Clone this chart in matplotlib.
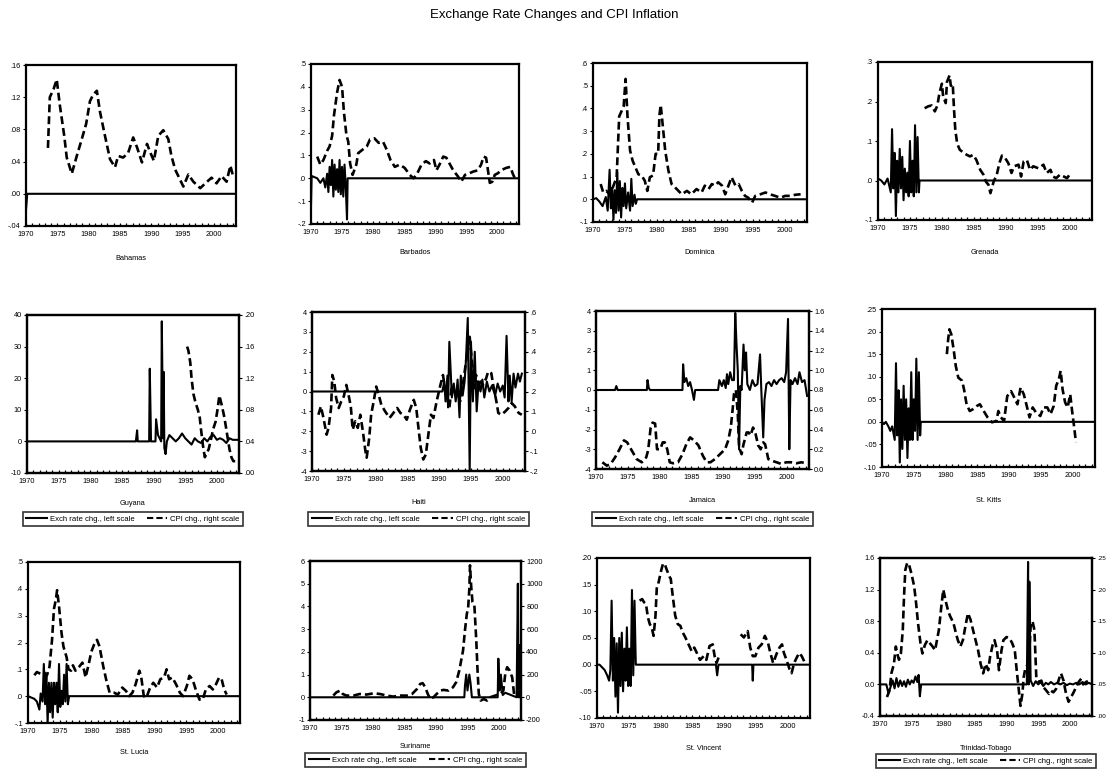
import matplotlib.pyplot as plt
from matplotlib.ticker import FixedLocator, MultipleLocator

plt.rcParams['font.family'] = ['Liberation Sans', 'DejaVu Sans']

# ---------------- data ----------------
bahamas_cpi_yr = [1973.5, 1973.8, 1974.4, 1974.9, 1975.4, 1976.1, 1976.5, 1977.3, 1978.1, 1978.9, 1979.6,
                  1980.2, 1980.7, 1981.3, 1981.8, 1982.6, 1983.4, 1984.2, 1984.7, 1985.5, 1986.3, 1987.1,
                  1987.7, 1988.5, 1989.3, 1989.9, 1990.4, 1991.1, 1991.9, 1992.7, 1993.2, 1993.8, 1994.3,
                  1995.1, 1995.9, 1996.7, 1997.8, 1998.6, 1999.6, 2000.4, 2001.2, 2002.0, 2002.6, 2003.1]
bahamas_cpi = [.057, .12, .13, .142, .11, .072, .045, .025, .047, .068, .087,
               .115, .123, .128, .102, .072, .043, .033, .047, .045, .051, .07,
               .058, .039, .062, .05, .041, .072, .079, .068, .047, .03, .022,
               .009, .024, .015, .007, .013, .02, .013, .022, .015, .035, .02]
bahamas_fx_yr = [1970.0, 1970.2, 2003.5]
bahamas_fx = [-.02, 0.0, 0.0]

barbados_cpi_yr = [1971.0, 1971.5, 1972.0, 1972.6, 1973.0, 1973.4, 1973.7, 1974.2, 1974.6, 1975.0, 1975.3,
                   1975.7, 1976.0, 1976.3, 1976.7, 1977.3, 1977.6, 1978.3, 1979.0, 1979.5, 1980.2, 1980.9,
                   1981.6, 1982.2, 1982.8, 1983.5, 1984.3, 1985.1, 1985.9, 1986.5, 1987.0, 1987.8, 1988.5,
                   1989.1, 1989.8, 1990.2, 1990.7, 1991.3, 1991.8, 1992.4, 1992.9, 1993.7, 1994.2, 1994.8,
                   1995.5, 1996.2, 1996.9, 1997.4, 1997.8, 1998.2, 1998.5, 1998.8, 1999.2, 1999.6, 2000.1,
                   2000.6, 2001.4, 2002.1, 2002.5, 2003.0]
barbados_cpi = [.095, .06, .08, .12, .14, .185, .275, .375, .43, .40, .29,
                .19, .16, .065, .015, .06, .11, .125, .14, .17, .175, .155,
                .16, .125, .08, .05, .06, .045, .015, .0, .015, .06, .075,
                .065, .08, .035, .06, .095, .09, .06, .035, .007, -.015, .015,
                .022, .03, .035, .06, .095, .09, .035, -.02, -.015, .015, .022,
                .035, .045, .05, .02, -.01]
barbados_fx_yr = [1970.0, 1970.1, 1971.0, 1971.5, 1972.0, 1972.3, 1972.6, 1972.8, 1973.0, 1973.2, 1973.4,
                  1973.6, 1973.8, 1974.0, 1974.2, 1974.4, 1974.6, 1974.8, 1975.0, 1975.2, 1975.4, 1975.6,
                  1975.8, 1975.9, 2003.5]
barbados_fx = [-.12, .01, 0.0, -.02, 0.0, -.04, .02, -.06, .05, -.03, .08,
               -.08, .06, -.05, .04, -.06, .08, -.07, .05, -.08, .06, -.04,
               -.18, 0.0, 0.0]

dominica_cpi_yr = [1971.2, 1971.6, 1972.1, 1972.6, 1973.1, 1973.7, 1974.1, 1974.5, 1974.8, 1975.1, 1975.4,
                   1975.8, 1976.2, 1976.5, 1977.1, 1977.6, 1978.1, 1978.5, 1978.9, 1979.4, 1979.8, 1980.2,
                   1980.4, 1980.6, 1980.9, 1981.3, 1981.8, 1982.3, 1983.1, 1983.9, 1984.7, 1985.4, 1986.2,
                   1987.0, 1987.5, 1988.1, 1988.6, 1989.1, 1989.6, 1990.2, 1990.7, 1991.2, 1991.7, 1992.3,
                   1992.8, 1993.3, 1993.8, 1994.3, 1994.9, 1995.4, 1996.2, 1997.0, 1997.7, 1998.5, 1999.3,
                   2000.1, 2000.9, 2001.7, 2002.5]
dominica_cpi = [.067, .03, .037, .022, .052, .097, .365, .39, .41, .53, .365,
                .215, .17, .15, .11, .105, .082, .037, .097, .105, .2, .2,
                .37, .415, .33, .215, .127, .067, .045, .022, .037, .022, .045,
                .03, .06, .045, .067, .06, .075, .06, .022, .06, .097, .06,
                .067, .037, .015, .007, -.015, .015, .022, .03, .022, .015, .007,
                .015, .015, .02, .022]
dominica_fx_yr = [1970.0, 1970.5, 1971.0, 1971.5, 1972.0, 1972.3, 1972.6, 1972.8, 1973.0, 1973.2, 1973.4,
                  1973.6, 1973.8, 1974.0, 1974.2, 1974.4, 1974.6, 1974.8, 1975.0, 1975.2, 1975.5, 1975.8,
                  1976.0, 1976.2, 1976.5, 1976.7, 1976.9, 2003.5]
dominica_fx = [0.0, .005, -.01, -.03, .01, -.05, .13, -.04, .05, -.09, .04,
               -.06, .12, -.05, .08, -.08, .05, -.03, .07, -.04, .03, -.05,
               .09, -.03, .02, -.02, 0.0, 0.0]

grenada_cpi_yr = [1977.3, 1977.9, 1978.4, 1978.9, 1979.3, 1979.6, 1980.0, 1980.2, 1980.6, 1980.8, 1981.2,
                  1981.4, 1981.7, 1981.9, 1982.1, 1982.4, 1982.8, 1983.4, 1983.9, 1984.4, 1984.9, 1985.4,
                  1986.0, 1986.5, 1986.9, 1987.3, 1987.6, 1988.1, 1988.6, 1989.0, 1989.4, 1989.9, 1990.4,
                  1990.9, 1991.3, 1992.0, 1992.4, 1992.8, 1993.3, 1993.8, 1994.3, 1995.1, 1995.9, 1996.4,
                  1997.0, 1997.4, 1997.9, 1998.5, 1999.1, 1999.6, 2000.0]
grenada_cpi = [.183, .188, .19, .175, .19, .22, .245, .212, .196, .25, .266,
               .24, .245, .18, .128, .093, .078, .07, .065, .061, .065, .052,
               .027, .015, -.003, -.011, -.032, -.003, .015, .044, .063, .057, .044,
               .019, .036, .04, .01, .048, .052, .027, .036, .031, .04, .019,
               .027, .01, .006, .015, .01, .006, .015]
grenada_fx_yr = [1970.0, 1970.5, 1971.0, 1971.5, 1972.0, 1972.2, 1972.4, 1972.6, 1972.8, 1973.0, 1973.2,
                 1973.4, 1973.6, 1973.8, 1974.0, 1974.2, 1974.4, 1974.6, 1974.8, 1975.0, 1975.2, 1975.4,
                 1975.6, 1975.8, 1976.0, 1976.2, 1976.4, 1976.5, 2003.5]
grenada_fx = [.005, 0.0, -.01, .005, -.03, .13, -.02, .07, -.09, .05, -.03,
              .08, -.02, .06, -.05, .03, -.03, .02, -.04, .10, -.03, .05,
              -.04, .14, -.03, .11, -.03, 0.0, 0.0]

guyana_cpi_yr = [1995.3, 1995.5, 1995.8, 1996.0, 1996.3, 1996.6, 1997.0, 1997.3, 1997.5, 1997.8, 1998.1,
                 1998.4, 1998.7, 1999.0, 1999.4, 1999.8, 2000.1, 2000.4, 2000.8, 2001.2, 2001.6, 2002.0,
                 2002.3, 2002.6, 2002.9]
guyana_cpi = [.16, .155, .14, .12, .10, .09, .08, .07, .055, .035, .02,
              .025, .03, .04, .055, .065, .08, .098, .085, .07, .05, .03,
              .02, .015, .015]
guyana_fx_yr = [1970.0, 1987.2, 1987.4, 1987.5, 1989.3, 1989.4, 1989.6, 1990.3, 1990.4, 1990.7, 1991.2,
                1991.3, 1991.5, 1991.6, 1991.7, 1991.9, 1992.1, 1992.5, 1993.0, 1993.5, 1994.0, 1994.5,
                1995.0, 1995.5, 1996.0, 1996.5, 1997.0, 1997.5, 1998.0, 1998.5, 1999.0, 1999.5, 2000.0,
                2000.5, 2001.0, 2001.5, 2002.0, 2002.5, 2003.0, 2003.5]
guyana_fx = [0.0, 0.0, 3.5, 0.0, 0.0, 23.0, 0.0, 0.0, 7.0, 2.0, 0.0,
             38.0, 1.0, 22.0, -2.0, -4.0, 0.0, 2.0, 1.0, 0.0, 1.0, 2.5,
             1.0, 0.0, -1.0, 1.0, 0.0, -0.5, 1.0, 0.0, 1.5, 2.0, 0.5,
             1.0, 0.5, -0.5, 1.0, 0.5, 0.5, 0.5]

haiti_cpi_yr = [1971.0, 1971.4, 1971.8, 1972.3, 1972.6, 1973.0, 1973.2, 1973.5, 1973.8, 1974.2, 1974.6,
                1975.0, 1975.4, 1975.8, 1976.1, 1976.4, 1976.8, 1977.2, 1977.6, 1978.0, 1978.4, 1978.6,
                1979.0, 1979.3, 1979.7, 1980.1, 1980.5, 1980.9, 1981.5, 1982.2, 1982.8, 1983.4, 1983.9,
                1984.4, 1984.9, 1985.4, 1986.0, 1986.4, 1986.8, 1987.1, 1987.5, 1987.9, 1988.3, 1988.7,
                1989.1, 1989.6, 1990.2, 1990.6, 1990.9, 1991.2, 1991.6, 1992.0, 1992.4, 1992.8, 1993.3,
                1993.8, 1994.3, 1994.8, 1995.1, 1995.5, 1995.8, 1996.2, 1996.5, 1996.9, 1997.4, 1997.7,
                1998.2, 1998.5, 1999.0, 1999.3, 1999.8, 2000.4, 2000.9, 2001.4, 2001.9, 2002.5, 2003.0]
haiti_cpi = [.083, .125, .067, -.017, .017, .117, .283, .25, .167, .117, .15,
             .175, .233, .175, .125, .008, .05, .017, .083, 0.0, -.1, -.133,
             -.033, .083, .15, .225, .183, .133, .1, .067, .092, .117, .092,
             .083, .058, .108, .158, .117, 0.0, -.083, -.142, -.117, -.017, .083,
             .067, .15, .233, .283, .217, .175, .117, .233, .2, .2, .15,
             .25, .367, .475, .367, .217, .283, .217, .25, .233, .267, .3,
             .292, .233, .15, .092, .083, .1, .117, .142, .125, .092, .083]
haiti_fx_yr = [1970.0, 1990.5, 1990.8, 1991.0, 1991.3, 1991.4, 1991.6, 1992.0, 1992.3, 1992.6, 1992.9,
               1993.2, 1993.4, 1993.7, 1994.0, 1994.2, 1994.5, 1994.8, 1995.0, 1995.3, 1995.6, 1995.9,
               1996.2, 1996.5, 1996.8, 1997.1, 1997.5, 1997.9, 1998.3, 1998.8, 1999.2, 1999.6, 2000.0,
               2000.3, 2000.6, 2000.9, 2001.1, 2001.4, 2001.7, 2002.0, 2002.4, 2002.7, 2003.0]
haiti_fx = [0.0, 0.0, 0.5, -0.5, 0.8, -0.8, 2.5, -0.3, 0.4, -0.5, 0.6,
            -1.3, 0.8, -0.2, 0.5, 1.5, 3.7, -4.0, 2.5, -0.5, 2.0, -1.0,
            0.5, 0.0, 0.6, -0.3, 0.5, 0.0, 0.3, -0.2, 0.4, 0.0, 0.3,
            -0.3, 2.8, -0.5, 0.8, -0.5, 0.9, 0.2, 0.9, 0.5, 0.9]

jamaica_cpi_yr = [1971.0, 1971.7, 1972.3, 1973.0, 1973.7, 1974.4, 1974.9, 1975.6, 1976.4, 1977.2, 1977.9,
                  1978.2, 1978.6, 1978.9, 1979.3, 1979.6, 1980.1, 1980.5, 1980.8, 1981.2, 1981.6, 1982.1,
                  1982.9, 1983.6, 1984.2, 1984.8, 1985.4, 1986.1, 1986.8, 1987.4, 1988.0, 1988.7, 1989.5,
                  1990.3, 1990.8, 1991.2, 1991.5, 1991.7, 1992.0, 1992.3, 1992.5, 1992.9, 1993.2, 1993.7,
                  1994.0, 1994.3, 1994.7, 1995.1, 1995.5, 1995.9, 1996.3, 1996.6, 1997.1, 1997.6, 1998.4,
                  1999.2, 1999.9, 2000.7, 2001.5, 2002.3, 2003.1]
jamaica_cpi = [.068, .034, .05, .118, .2, .29, .27, .19, .1, .068, .118,
               .19, .42, .47, .46, .2, .2, .27, .27, .2, .068, .058,
               .068, .15, .25, .32, .29, .24, .135, .068, .068, .1, .15,
               .2, .29, .42, .61, .76, .8, .56, .22, .15, .25, .37,
               .37, .34, .42, .355, .24, .2, .27, .25, .1, .085, .068,
               .05, .068, .068, .058, .068, .058]
jamaica_fx_yr = [1970.0, 1973.0, 1973.2, 1973.4, 1978.0, 1978.1, 1978.3, 1978.5, 1983.6, 1983.7, 1983.9,
                 1984.2, 1984.5, 1984.8, 1985.1, 1985.4, 1985.6, 1989.2, 1989.4, 1989.8, 1990.1, 1990.4,
                 1990.6, 1990.8, 1991.1, 1991.4, 1991.7, 1991.9, 1992.1, 1992.3, 1992.5, 1992.7, 1992.9,
                 1993.2, 1993.4, 1993.6, 1993.8, 1994.2, 1994.6, 1995.0, 1995.4, 1995.8, 1996.0, 1996.3,
                 1996.5, 1996.8, 1997.2, 1997.6, 1998.0, 1998.4, 1998.8, 1999.2, 1999.6, 1999.9, 2000.2,
                 2000.4, 2000.6, 2000.9, 2001.3, 2001.7, 2002.0, 2002.4, 2002.8, 2003.2]
jamaica_fx = [0.0, 0.0, 0.2, 0.0, 0.0, 0.5, 0.1, 0.0, 0.0, 1.3, 0.4,
              0.6, 0.2, 0.4, 0.0, -0.5, 0.0, 0.0, 0.5, 0.2, 0.5, 0.1,
              0.8, 0.3, 0.9, 0.5, 0.5, 3.9, 2.3, 1.0, -3.0, 0.2, 0.0,
              2.3, 1.0, 1.9, 0.3, 0.0, 0.5, 0.2, 0.3, 1.8, 0.0, -2.4,
              -0.5, 0.3, 0.4, 0.2, 0.5, 0.3, 0.5, 0.6, 0.4, 0.9, 3.6,
              -3.0, 0.5, 0.3, 0.6, 0.3, 0.9, 0.4, 0.5, -0.3]

stkitts_cpi_yr = [1980.2, 1980.4, 1980.6, 1980.9, 1981.3, 1981.6, 1982.0, 1982.6, 1982.9, 1983.3, 1983.8,
                  1984.3, 1984.9, 1985.4, 1986.0, 1986.6, 1987.3, 1988.0, 1988.3, 1988.7, 1989.2, 1989.7,
                  1990.3, 1990.8, 1991.3, 1991.8, 1992.3, 1992.7, 1993.2, 1993.7, 1994.2, 1994.9, 1995.4,
                  1996.0, 1996.5, 1997.0, 1997.4, 1997.8, 1998.1, 1998.4, 1998.8, 1999.2, 1999.6, 1999.9,
                  2000.2, 2000.5]
stkitts_cpi = [.15, .182, .205, .194, .157, .124, .098, .091, .072, .039, .024,
               .028, .035, .039, .024, .01, -.001, .002, .024, .01, .002, .057,
               .068, .054, .039, .076, .061, .039, .01, .032, .021, .013, .032,
               .032, .017, .035, .08, .094, .113, .072, .043, .032, .061, .024,
               -.009, -.045]
stkitts_fx_yr = [1970.0, 1970.3, 1970.6, 1971.0, 1971.3, 1971.6, 1972.0, 1972.2, 1972.4, 1972.6, 1972.8,
                 1973.0, 1973.2, 1973.4, 1973.6, 1973.8, 1974.0, 1974.2, 1974.4, 1974.6, 1974.8, 1975.0,
                 1975.2, 1975.4, 1975.6, 1975.8, 1976.0, 1976.1, 2003.5]
stkitts_fx = [0.0, -.005, 0.0, -.01, -.02, -.01, -.04, .13, -.03, .07, -.09,
              .05, -.06, .08, -.04, .05, -.08, .03, -.04, .11, -.04, .05,
              -.02, .14, -.04, .11, -.03, 0.0, 0.0]

stlucia_cpi_yr = [1971.0, 1971.4, 1972.0, 1972.5, 1973.0, 1973.4, 1973.8, 1974.1, 1974.4, 1974.6, 1974.9,
                  1975.3, 1975.6, 1976.1, 1976.4, 1976.8, 1977.1, 1977.5, 1978.1, 1978.6, 1979.1, 1979.6,
                  1980.0, 1980.4, 1980.9, 1981.3, 1981.9, 1982.4, 1982.9, 1983.6, 1984.2, 1984.9, 1985.5,
                  1986.0, 1986.5, 1987.0, 1987.6, 1987.9, 1988.3, 1988.7, 1989.3, 1989.8, 1990.4, 1990.9,
                  1991.5, 1991.9, 1992.3, 1992.8, 1993.4, 1994.0, 1994.5, 1995.1, 1995.5, 1996.0, 1996.5,
                  1997.1, 1997.6, 1998.1, 1998.7, 1999.2, 1999.7, 2000.2, 2000.6, 2001.0, 2001.4]
stlucia_cpi = [.078, .09, .083, .09, .078, .11, .21, .325, .36, .395, .335,
               .235, .185, .145, .10, .095, .115, .095, .11, .125, .07, .12,
               .165, .19, .21, .185, .11, .057, .013, .013, .006, .032, .019,
               .0, .013, .044, .095, .07, .0, -.006, .032, .05, .032, .063,
               .07, .10, .063, .07, .044, .013, .0, .038, .076, .063, .025,
               -.013, -.013, .025, .038, .025, .044, .07, .063, .025, .006]
stlucia_fx_yr = [1970.0, 1970.5, 1971.0, 1971.4, 1971.8, 1972.0, 1972.3, 1972.5, 1972.7, 1972.9, 1973.1,
                 1973.3, 1973.5, 1973.7, 1973.9, 1974.1, 1974.3, 1974.5, 1974.7, 1974.9, 1975.1, 1975.3,
                 1975.5, 1975.7, 1975.9, 1976.1, 1976.3, 1976.5, 2003.5]
stlucia_fx = [0.0, -.005, -.01, -.02, -.05, .01, -.02, .12, -.03, .08, -.10,
              .05, -.06, .05, -.08, .05, -.03, .05, -.06, .12, -.04, .02,
              -.03, .08, -.02, .12, -.03, 0.0, 0.0]

suriname_cpi_yr = [1973.7, 1974.2, 1974.8, 1975.2, 1975.8, 1976.9, 1977.9, 1979.0, 1980.1, 1981.1, 1982.2,
                   1983.2, 1984.3, 1985.4, 1986.2, 1987.0, 1987.5, 1987.9, 1988.3, 1988.7, 1989.1, 1989.6,
                   1990.1, 1990.7, 1991.2, 1992.0, 1992.7, 1993.2, 1993.7, 1994.3, 1994.6, 1994.9, 1995.1,
                   1995.3, 1995.4, 1995.6, 1995.8, 1996.1, 1996.4, 1996.6, 1996.8, 1997.1, 1997.6, 1998.1,
                   1998.6, 1999.4, 2000.2, 2000.7, 2001.0, 2001.3, 2001.7, 2002.1, 2002.4]
suriname_cpi = [15, 44, 59, 29, 15, 15, 29, 24, 35, 29, 15,
                6, 15, 15, 29, 74, 118, 124, 88, 29, -15, 0,
                29, 59, 65, 59, 88, 132, 235, 412, 588, 735, 780,
                956, 1162, 970, 838, 809, 500, 235, 29, -29, -15, -29,
                0, 15, 29, 59, 206, 265, 235, 176, 29]
suriname_fx_yr = [1970.0, 1994.5, 1994.6, 1994.8, 1995.0, 1995.3, 1995.5, 1995.7, 1999.8, 1999.9, 2000.1,
                  2000.3, 2000.6, 2001.0, 2002.8, 2003.0, 2003.1, 2003.2, 2003.3, 2003.5]
suriname_fx = [0.0, 0.0, 0.5, 1.0, 0.3, 1.0, 0.6, 0.0, 0.0, 1.7, 0.3,
               1.0, 0.1, 0.2, 0.0, 5.0, 0.0, 2.3, 0.0, 0.0]

stvincent_cpi_yr = [1976.7, 1977.1, 1977.4, 1977.7, 1978.0, 1978.3, 1978.6, 1978.9, 1979.2, 1979.4, 1979.7,
                    1980.1, 1980.4, 1980.7, 1981.0, 1981.4, 1981.6, 1981.9, 1982.3, 1982.7, 1983.1, 1983.5,
                    1983.9, 1984.4, 1984.9, 1985.3, 1985.7, 1986.2, 1986.8, 1987.2, 1987.7, 1988.2, 1988.5,
                    1988.8, 1989.2, None, 1992.6, 1993.1, 1993.7, 1994.1, 1994.5, 1994.9, 1995.4, 1995.9,
                    1996.4, 1996.9, 1997.2, 1997.7, 1998.3, 1998.7, 1999.1, 1999.4, 1999.8, 2000.3, 2000.6,
                    2001.0, 2001.4, 2001.8, 2002.2, 2002.6]
stvincent_cpi = [.12, .123, .117, .114, .089, .076, .07, .054, .092, .143, .155,
                 .177, .19, .187, .177, .165, .161, .13, .092, .076, .073, .06,
                 .051, .038, .025, .032, .022, .009, .016, .009, .035, .038, .016,
                 .003, .016, None, .057, .051, .063, .032, .016, .016, .032, .038,
                 .054, .041, .025, .003, .022, .032, .038, .022, .009, -.009, -.016,
                 .003, .013, .022, .016, .006]
stvincent_fx_yr = [1970.0, 1970.4, 1970.8, 1971.2, 1971.6, 1971.9, 1972.1, 1972.3, 1972.5, 1972.7, 1972.9,
                   1973.1, 1973.3, 1973.5, 1973.7, 1973.9, 1974.1, 1974.3, 1974.5, 1974.7, 1974.9, 1975.1,
                   1975.3, 1975.5, 1975.7, 1975.9, 1976.1, 1988.7, 1988.9, 1989.1, 1994.4, 1994.5, 1994.6,
                   2003.5]
stvincent_fx = [0.0, 0.0, -.005, -.01, -.02, -.03, -.01, .12, -.03, .05, -.06,
                .04, -.09, .05, -.04, .06, -.05, .03, -.03, .07, -.04, .03,
                -.04, .14, -.02, .12, 0.0, 0.0, -.02, 0.0, 0.0, -.03, 0.0,
                0.0]

trinidad_cpi_yr = [1971.1, 1971.5, 1971.8, 1972.2, 1972.5, 1972.8, 1973.0, 1973.3, 1973.6, 1973.8, 1974.0,
                   1974.3, 1974.6, 1975.0, 1975.4, 1975.7, 1976.0, 1976.4, 1976.7, 1977.1, 1977.5, 1977.9,
                   1978.3, 1978.7, 1979.0, 1979.3, 1979.7, 1980.0, 1980.4, 1980.8, 1981.1, 1981.6, 1982.0,
                   1982.3, 1982.7, 1983.1, 1983.6, 1983.9, 1984.3, 1984.7, 1985.1, 1985.5, 1985.9, 1986.3,
                   1986.7, 1987.1, 1987.4, 1987.8, 1988.1, 1988.5, 1988.8, 1989.2, 1989.5, 1990.0, 1990.5,
                   1990.9, 1991.3, 1991.6, 1992.0, 1992.2, 1992.5, 1992.7, 1993.0, 1993.3, 1993.5, 1993.8,
                   1994.1, 1994.4, 1994.7, 1995.1, 1995.5, 1995.8, 1996.3, 1996.7, 1997.0, 1997.4, 1997.8,
                   1998.3, 1998.6, 1999.0, 1999.4, 1999.8, 2000.2, 2000.6, 2001.0, 2001.4, 2001.8, 2002.1,
                   2002.6, 2003.0]
trinidad_cpi = [.030, .040, .0675, .0825, .11, .096, .089, .099, .136, .19, .231,
                .2425, .239, .224, .205, .179, .1475, .115, .099, .1125, .12, .115,
                .11, .104, .12, .136, .174, .20, .181, .165, .1575, .1475, .131,
                .12, .11, .12, .1475, .1625, .1525, .136, .12, .104, .0825, .0675,
                .0825, .0725, .094, .1125, .12, .104, .0725, .104, .12, .125, .1225,
                .115, .104, .0725, .035, .016, .035, .061, .0775, .08, .0825, .141,
                .15, .136, .061, .054, .056, .046, .040, .035, .040, .0375, .0425,
                .059, .0675, .056, .035, .0225, .030, .0375, .046, .054, .059, .05,
                .054, .056]
trinidad_fx_yr = [1970.0, 1971.0, 1971.3, 1971.6, 1972.0, 1972.3, 1972.6, 1972.9, 1973.2, 1973.5, 1973.8,
                  1974.1, 1974.4, 1974.7, 1975.0, 1975.3, 1975.6, 1975.9, 1976.1, 1976.3, 1976.5, 1993.2,
                  1993.4, 1993.5, 1993.6, 1993.8, 1994.2, 1994.6, 1995.0, 1995.4, 1995.8, 1996.2, 1996.6,
                  1997.0, 1997.5, 1998.0, 1998.5, 1999.0, 1999.5, 2000.0, 2000.5, 2001.0, 2001.5, 2002.0,
                  2002.5, 2003.0, 2003.5]
trinidad_fx = [0.0, 0.0, -0.1, -0.05, 0.05, -0.05, 0.08, -0.03, 0.05, -0.02, 0.04,
               -0.03, 0.06, 0.0, 0.05, 0.02, 0.1, 0.03, 0.12, -0.15, 0.0, 0.0,
               1.55, 0.0, 1.3, 0.05, -0.02, 0.04, 0.0, 0.03, -0.02, 0.02, 0.0,
               0.03, 0.0, 0.02, 0.0, 0.02, -0.01, 0.01, 0.0, 0.02, 0.0, 0.03,
               0.0, 0.02, 0.0]

# tick values and labels
bahamas_ticks = [.16, .12, .08, .04, .00, -.04]
bahamas_labels = ['.16', '.12', '.08', '.04', '.00', '-.04']
barbados_ticks = [.5, .4, .3, .2, .1, .0, -.1, -.2]
barbados_labels = ['.5', '.4', '.3', '.2', '.1', '.0', '-.1', '-.2']
dominica_ticks = [.6, .5, .4, .3, .2, .1, .0, -.1]
dominica_labels = ['.6', '.5', '.4', '.3', '.2', '.1', '.0', '-.1']
grenada_ticks = [.3, .2, .1, .0, -.1]
grenada_labels = ['.3', '.2', '.1', '.0', '-.1']
guyana_ticks = [40, 30, 20, 10, 0, -10]
guyana_labels = ['40', '30', '20', '10', '0', '-10']
guyana_rticks = [.20, .16, .12, .08, .04, .00]
guyana_rlabels = ['.20', '.16', '.12', '.08', '.04', '.00']
haiti_ticks = [4, 3, 2, 1, 0, -1, -2, -3, -4]
haiti_labels = ['4', '3', '2', '1', '0', '-1', '-2', '-3', '-4']
haiti_rticks = [.6, .5, .4, .3, .2, .1, .0, -.1, -.2]
haiti_rlabels = ['.6', '.5', '.4', '.3', '.2', '.1', '.0', '-.1', '-.2']
jamaica_ticks = [4, 3, 2, 1, 0, -1, -2, -3, -4]
jamaica_labels = ['4', '3', '2', '1', '0', '-1', '-2', '-3', '-4']
jamaica_rticks = [1.6, 1.4, 1.2, 1.0, 0.8, 0.6, 0.4, 0.2, 0.0]
jamaica_rlabels = ['1.6', '1.4', '1.2', '1.0', '0.8', '0.6', '0.4', '0.2', '0.0']
stkitts_ticks = [.25, .20, .15, .10, .05, .00, -.05, -.10]
stkitts_labels = ['.25', '.20', '.15', '.10', '.05', '.00', '-.05', '-.10']
stlucia_ticks = [.5, .4, .3, .2, .1, .0, -.1]
stlucia_labels = ['.5', '.4', '.3', '.2', '.1', '.0', '-.1']
suriname_ticks = [6, 5, 4, 3, 2, 1, 0, -1]
suriname_labels = ['6', '5', '4', '3', '2', '1', '0', '-1']
suriname_rticks = [1200, 1000, 800, 600, 400, 200, 0, -200]
suriname_rlabels = ['1200', '1000', '800', '600', '400', '200', '0', '-200']
stvincent_ticks = [.20, .15, .10, .05, .00, -.05, -.10]
stvincent_labels = ['.20', '.15', '.10', '.05', '.00', '-.05', '-.10']
trinidad_ticks = [1.6, 1.2, 0.8, 0.4, 0.0, -0.4]
trinidad_labels = ['1.6', '1.2', '0.8', '0.4', '0.0', '-0.4']
trinidad_rticks = [.25, .20, .15, .10, .05, .00]
trinidad_rlabels = ['.25', '.20', '.15', '.10', '.05', '.00']

year_ticks = [1970, 1975, 1980, 1985, 1990, 1995, 2000]
year_labels = ['1970', '1975', '1980', '1985', '1990', '1995', '2000']

# ---------------- figure ----------------
W, H = 1109, 778
fig = plt.figure(figsize=(W / 100, H / 100), dpi=100)
fig.text(0.5, 1 - 15 / H, 'Exchange Rate Changes and CPI Inflation', ha='center', va='center', fontsize=9.5)

DASH = (0, (3.0, 1.5))
FS = 5.3


def px_rect(l, t, r, b):
    return [l / W, 1 - b / H, (r - l) / W, (b - t) / H]


def style_axis(ax, ticks, labels, fs=FS):
    ax.set_ylim(min(ticks), max(ticks))
    ax.yaxis.set_major_locator(FixedLocator(ticks))
    ax.set_yticklabels(labels)
    ax.tick_params(axis='y', direction='out', length=2.5, width=0.8, labelsize=fs, pad=1.2)


def panel(name, box, fx_x, fx_y, cpi_x, cpi_y, ticks, labels, name_y,
          rticks=None, rlabels=None, legend_y=None, rfs=FS):
    ax = fig.add_axes(px_rect(*box))
    ax.plot(fx_x, fx_y, color='black', lw=1.5, zorder=3)
    style_axis(ax, ticks, labels)
    if rticks is None:
        ax.plot(cpi_x, cpi_y, color='black', lw=1.9, ls=DASH, zorder=2)
    else:
        ax2 = ax.twinx()
        ax2.plot(cpi_x, cpi_y, color='black', lw=1.9, ls=DASH)
        style_axis(ax2, rticks, rlabels, rfs)
        for s in ax2.spines.values():
            s.set_linewidth(1.6)
    ax.set_xlim(1970, 2003.5)
    ax.xaxis.set_major_locator(FixedLocator(year_ticks))
    ax.set_xticklabels(year_labels)
    ax.xaxis.set_minor_locator(MultipleLocator(1))
    ax.tick_params(axis='x', which='both', direction='in', length=2.5, width=0.9, labelsize=FS, pad=3.5)
    for s in ax.spines.values():
        s.set_linewidth(1.6)
    l, t, r, b = box
    fig.text((l + r) / 2 / W, 1 - name_y / H, name, ha='center', va='center', fontsize=FS)
    if legend_y is not None:
        h1 = plt.Line2D([], [], color='black', lw=1.5)
        h2 = plt.Line2D([], [], color='black', lw=1.5, ls=DASH)
        leg = fig.legend([h1, h2], ['Exch rate chg., left scale', 'CPI chg., right scale'],
                         loc='center', bbox_to_anchor=((l + r) / 2 / W, 1 - legend_y / H),
                         ncol=2, fontsize=5.6, frameon=True, fancybox=False,
                         edgecolor='black', handlelength=2.6, handletextpad=0.4, columnspacing=1.6,
                         borderpad=0.45, borderaxespad=0)
        leg.get_frame().set_linewidth(1.2)
    return ax


panel('Bahamas', (26, 65, 236, 226), bahamas_fx_yr, bahamas_fx, bahamas_cpi_yr, bahamas_cpi,
      bahamas_ticks, bahamas_labels, 258)
panel('Barbados', (311, 64, 519, 224), barbados_fx_yr, barbados_fx, barbados_cpi_yr, barbados_cpi,
      barbados_ticks, barbados_labels, 253)
panel('Dominica', (593, 63, 807, 222), dominica_fx_yr, dominica_fx, dominica_cpi_yr, dominica_cpi,
      dominica_ticks, dominica_labels, 252)
panel('Grenada', (878, 62, 1092, 220), grenada_fx_yr, grenada_fx, grenada_cpi_yr, grenada_cpi,
      grenada_ticks, grenada_labels, 252)

panel('Guyana', (27, 315, 239, 473), guyana_fx_yr, guyana_fx, guyana_cpi_yr, guyana_cpi,
      guyana_ticks, guyana_labels, 504, guyana_rticks, guyana_rlabels, 519)
panel('Haiti', (312, 312, 525, 471), haiti_fx_yr, haiti_fx, haiti_cpi_yr, haiti_cpi,
      haiti_ticks, haiti_labels, 503, haiti_rticks, haiti_rlabels, 519)
panel('Jamaica', (596, 311, 809, 469), jamaica_fx_yr, jamaica_fx, jamaica_cpi_yr, jamaica_cpi,
      jamaica_ticks, jamaica_labels, 501, jamaica_rticks, jamaica_rlabels, 519)
panel('St. Kitts', (882, 309, 1095, 467), stkitts_fx_yr, stkitts_fx, stkitts_cpi_yr, stkitts_cpi,
      stkitts_ticks, stkitts_labels, 500)

panel('St. Lucia', (28, 562, 240, 723), stlucia_fx_yr, stlucia_fx, stlucia_cpi_yr, stlucia_cpi,
      stlucia_ticks, stlucia_labels, 753)
panel('Suriname', (310, 561, 521, 720), suriname_fx_yr, suriname_fx, suriname_cpi_yr, suriname_cpi,
      suriname_ticks, suriname_labels, 747, suriname_rticks, suriname_rlabels, 760)
panel('St. Vincent', (597, 558, 810, 718), stvincent_fx_yr, stvincent_fx, stvincent_cpi_yr, stvincent_cpi,
      stvincent_ticks, stvincent_labels, 749)
panel('Trinidad-Tobago', (880, 558, 1092, 716), trinidad_fx_yr, trinidad_fx, trinidad_cpi_yr, trinidad_cpi,
      trinidad_ticks, trinidad_labels, 748, trinidad_rticks, trinidad_rlabels, 761, rfs=4.5)

fig.savefig('out.png', dpi=100)
